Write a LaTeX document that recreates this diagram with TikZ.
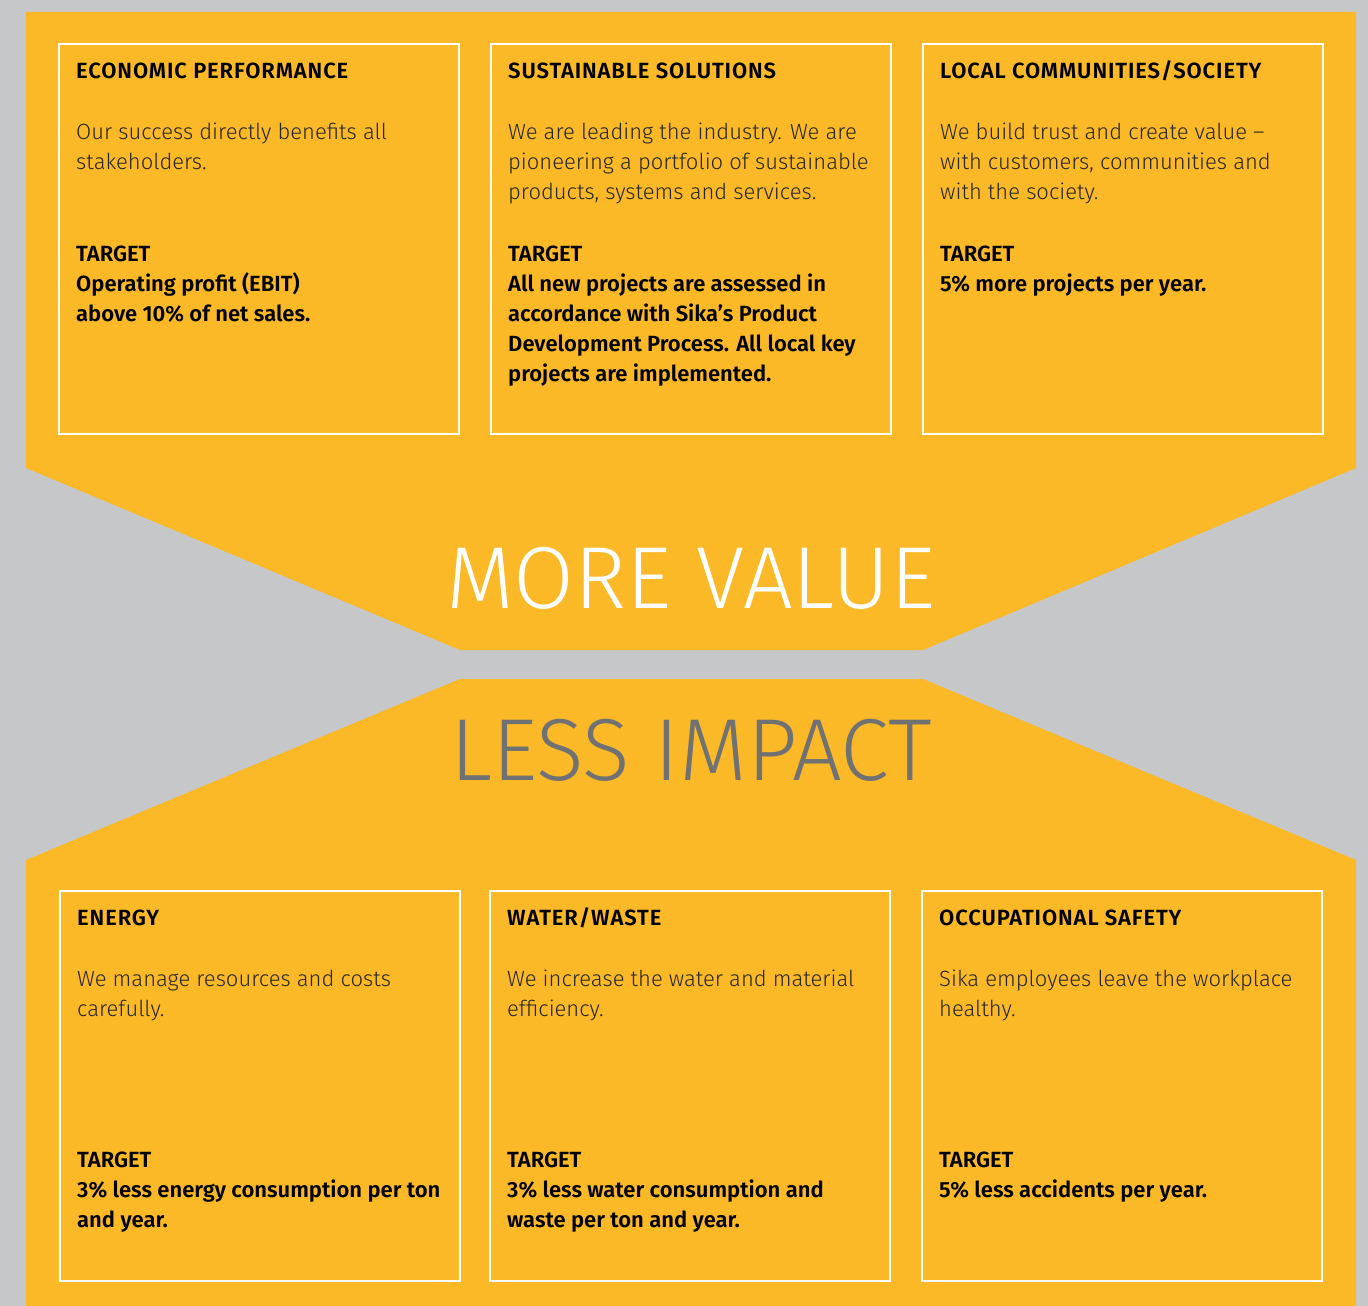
\documentclass[tikz,border=0pt]{standalone}
\usepackage{fontspec}
\setmainfont{Fira Sans}[UprightFont={* Light},BoldFont={* SemiBold}]
\usetikzlibrary{positioning}

\definecolor{sikayellow}{HTML}{FCB927}
\definecolor{sikagrey}{HTML}{C6C7C8}
\definecolor{impactgrey}{HTML}{707173}

\newcommand{\firstline}{\rule{0pt}{20pt}}

\tikzset{
  card/.style={draw=white,line width=2pt,minimum width=400pt,minimum height=390pt,anchor=north west,inner sep=0pt},
  head/.style={font=\bfseries\fontsize{22}{30}\selectfont\addfontfeatures{LetterSpace=4},anchor=base west,inner sep=0pt},
  desc/.style={font=\fontsize{22}{30}\selectfont,text=black!85,align=left,anchor=north west,inner sep=0pt},
  goal/.style={font=\bfseries\fontsize{22}{30}\selectfont,align=left,anchor=north west,inner sep=0pt},
  slogan/.style={font=\fontsize{88}{90}\selectfont,anchor=base,inner sep=0pt}
}

\begin{document}
\begin{tikzpicture}[x=1pt,y=-1pt]

\fill[sikagrey] (0,0) rectangle (1368,1306);
\useasboundingbox (0,0) rectangle (1368,1306);

% the two yellow arrows
\fill[sikayellow] (26,12) -- (1356,12) -- (1356,468) -- (923,650) -- (460,650) -- (26,468) -- cycle;
\fill[sikayellow] (460,679) -- (923,679) -- (1356,860) -- (1356,1306) -- (26,1306) -- (26,860) -- cycle;

\node[slogan,text=white] (more) at (691,608) {MORE VALUE};
\node[slogan,text=impactgrey] (less) at (691,780) {LESS IMPACT};

% top row
\foreach \name/\x/\title/\text/\target in {
  econ/58/{ECONOMIC PERFORMANCE}/{Our success directly benefits all\\stakeholders.}/{TARGET\\Operating profit (EBIT)\\above 10\% of net sales.},
  sust/490/{SUSTAINABLE SOLUTIONS}/{We are leading the industry. We are\\pioneering a portfolio of sustainable\\products, systems and services.}/{TARGET\\All new projects are assessed in\\accordance with Sika’s Product\\Development Process. All local key\\projects are implemented.},
  local/922/{LOCAL COMMUNITIES/SOCIETY}/{We build trust and create value –\\with customers, communities and\\with the society.}/{TARGET\\5\% more projects per year.}}
{
  \node[card] (\name) at (\x,43) {};
  \node[head] (\name-h) at ([shift={(18,35)}]\name.north west) {\title};
  \node[desc] (\name-d) at ([shift={(18,76)}]\name.north west) {\firstline\text};
  \node[goal] (\name-g) at ([shift={(18,198)}]\name.north west) {\firstline\target};
}

% bottom row
\foreach \name/\x/\title/\text/\target in {
  energy/59/{ENERGY}/{We manage resources and costs\\carefully.}/{TARGET\\3\% less energy consumption per ton\\and year.},
  water/489/{WATER/WASTE}/{We increase the water and material\\efficiency.}/{TARGET\\3\% less water consumption and\\waste per ton and year.},
  safety/921/{OCCUPATIONAL SAFETY}/{Sika employees leave the workplace\\healthy.}/{TARGET\\5\% less accidents per year.}}
{
  \node[card] (\name) at (\x,890) {};
  \node[head] (\name-h) at ([shift={(18,35)}]\name.north west) {\title};
  \node[desc] (\name-d) at ([shift={(18,76)}]\name.north west) {\firstline\text};
  \node[goal] (\name-g) at ([shift={(18,257)}]\name.north west) {\firstline\target};
}

\end{tikzpicture}
\end{document}
